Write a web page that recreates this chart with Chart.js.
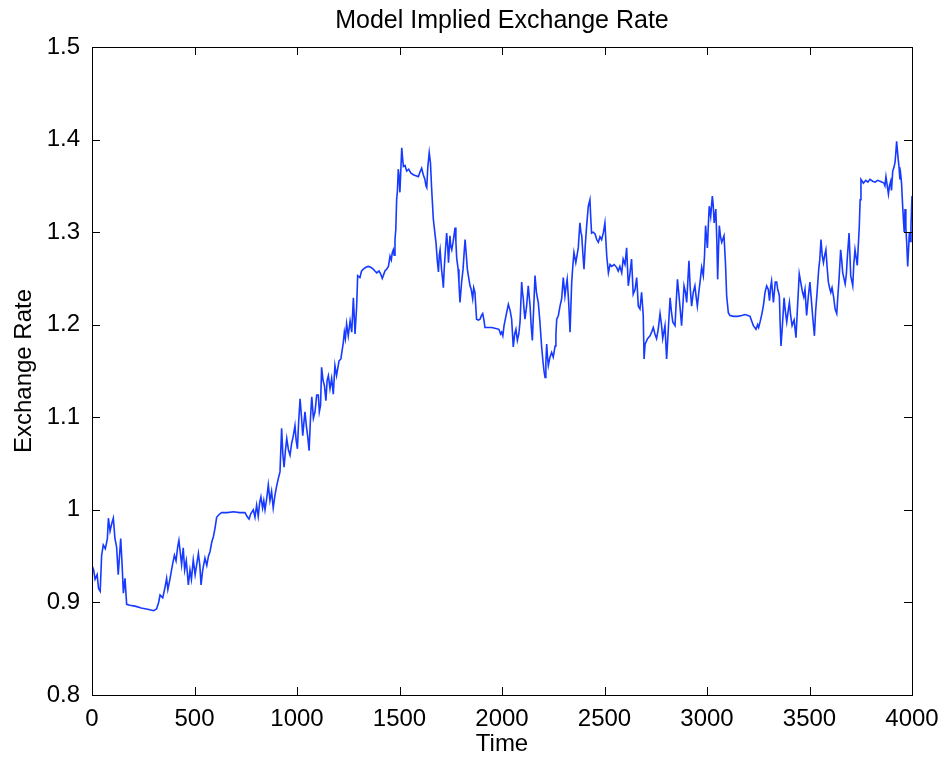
<!DOCTYPE html>
<html>
<head>
<meta charset="utf-8">
<title>Model Implied Exchange Rate</title>
<script src="https://cdn.jsdelivr.net/npm/chart.js@4.4.1/dist/chart.umd.min.js"></script>
<style>
  html, body { margin: 0; padding: 0; background: #fff; }
  #wrap { width: 944px; height: 762px; position: relative; }
</style>
</head>
<body>
<div id="wrap"><canvas id="rateChart"></canvas></div>
<script>
// values (time, exchange rate)
const times = [
  0, 8, 15, 25, 32, 40, 47, 55, 65, 75, 80, 88, 96, 104, 112, 120, 128, 140, 147, 153,
  161, 169, 185, 210, 240, 265, 283, 300, 315, 325, 332, 345, 355, 364, 370, 380, 392, 402, 410, 418,
  424, 430, 437, 445, 452, 460, 470, 478, 485, 494, 503, 510, 519, 526, 532, 540, 551, 560, 568, 576,
  584, 592, 600, 608, 620, 632, 660, 690, 720, 746, 756, 766, 775, 787, 795, 803, 811, 818, 824, 832,
  838, 844, 852, 860, 868, 876, 884, 892, 900, 909, 917, 925, 931, 937, 944, 950, 958, 966, 974, 982,
  990, 996, 1002, 1008, 1015, 1022, 1028, 1034, 1039, 1046, 1052, 1059, 1066, 1072, 1080, 1088, 1096, 1104, 1109, 1115,
  1120, 1127, 1134, 1141, 1147, 1153, 1161, 1169, 1177, 1185, 1193, 1205, 1214, 1220, 1226, 1231, 1236, 1242, 1250, 1259,
  1267, 1275, 1283, 1291, 1296, 1307, 1315, 1324, 1336, 1348, 1360, 1372, 1380, 1389, 1400, 1408, 1416, 1421, 1429, 1437,
  1446, 1454, 1460, 1465, 1470, 1474, 1478, 1482, 1486, 1490, 1494, 1498, 1502, 1507, 1511, 1515, 1519, 1527, 1535, 1545,
  1555, 1567, 1580, 1592, 1600, 1608, 1616, 1624, 1629, 1633, 1638, 1645, 1651, 1657, 1665, 1672, 1678, 1684, 1690, 1694,
  1698, 1705, 1710, 1714, 1718, 1722, 1730, 1735, 1739, 1746, 1750, 1755, 1762, 1771, 1775, 1779, 1786, 1790, 1795, 1803,
  1810, 1816, 1820, 1826, 1831, 1838, 1844, 1850, 1857, 1862, 1868, 1872, 1876, 1885, 1893, 1900, 1906, 1912, 1917, 1930,
  1950, 1970, 1985, 1993, 1998, 2004, 2010, 2020, 2031, 2040, 2047, 2055, 2062, 2068, 2075, 2082, 2088, 2096, 2100, 2104,
  2108, 2112, 2120, 2128, 2137, 2142, 2148, 2155, 2161, 2168, 2177, 2185, 2193, 2200, 2205, 2210, 2214, 2218, 2222, 2226,
  2234, 2242, 2250, 2259, 2263, 2267, 2275, 2283, 2291, 2299, 2307, 2312, 2318, 2325, 2332, 2340, 2346, 2351, 2360, 2366,
  2372, 2380, 2385, 2389, 2395, 2400, 2406, 2413, 2421, 2429, 2433, 2437, 2445, 2454, 2462, 2470, 2478, 2486, 2495, 2502,
  2511, 2519, 2527, 2535, 2547, 2559, 2567, 2575, 2584, 2591, 2600, 2608, 2616, 2624, 2632, 2640, 2649, 2657, 2665, 2673,
  2681, 2689, 2693, 2698, 2710, 2722, 2730, 2738, 2746, 2754, 2762, 2771, 2778, 2784, 2795, 2803, 2810, 2820, 2826, 2833,
  2844, 2850, 2856, 2862, 2868, 2876, 2882, 2888, 2895, 2901, 2906, 2912, 2918, 2925, 2933, 2941, 2947, 2953, 2960, 2966,
  2974, 2982, 2988, 2993, 3002, 3007, 3011, 3018, 3026, 3030, 3035, 3043, 3048, 3052, 3056, 3060, 3066, 3072, 3083, 3090,
  3096, 3104, 3112, 3130, 3150, 3170, 3185, 3200, 3210, 3218, 3226, 3233, 3239, 3247, 3252, 3259, 3268, 3276, 3283, 3291,
  3299, 3305, 3310, 3315, 3324, 3333, 3340, 3345, 3349, 3353, 3357, 3361, 3368, 3376, 3382, 3389, 3396, 3402, 3408, 3415,
  3425, 3434, 3441, 3450, 3458, 3466, 3472, 3478, 3486, 3494, 3502, 3508, 3515, 3524, 3530, 3537, 3545, 3550, 3556, 3562,
  3568, 3574, 3580, 3586, 3592, 3598, 3604, 3610, 3617, 3625, 3633, 3638, 3644, 3652, 3657, 3662, 3668, 3674, 3680, 3684,
  3693, 3701, 3711, 3716, 3722, 3733, 3738, 3743, 3747, 3751, 3757, 3763, 3775, 3785, 3795, 3808, 3820, 3832, 3844, 3855,
  3863, 3868, 3873, 3878, 3885, 3890, 3896, 3900, 3906, 3912, 3917, 3921, 3925, 3929, 3933, 3937, 3941, 3945, 3949, 3954,
  3958, 3962, 3966, 3970, 3974, 3979, 3983, 3987, 3991, 3995, 4000
];

const rates = [
  0.940, 0.935, 0.925, 0.930, 0.915, 0.912, 0.951, 0.962, 0.958, 0.969, 0.991, 0.977, 0.985, 0.991, 0.969, 0.960, 0.930, 0.969, 0.940, 0.910,
  0.926, 0.898, 0.897, 0.896, 0.894, 0.893, 0.892, 0.891, 0.893, 0.900, 0.908, 0.905, 0.915, 0.926, 0.914, 0.925, 0.940, 0.951, 0.945, 0.960,
  0.967, 0.955, 0.941, 0.959, 0.935, 0.945, 0.919, 0.935, 0.925, 0.946, 0.930, 0.940, 0.953, 0.940, 0.919, 0.935, 0.948, 0.940, 0.950, 0.955,
  0.965, 0.971, 0.980, 0.992, 0.995, 0.997, 0.997, 0.998, 0.997, 0.997, 0.993, 0.990, 0.996, 1.000, 0.992, 1.005, 0.993, 1.008, 1.014, 1.002,
  1.010, 1.000, 1.012, 1.027, 1.010, 1.020, 1.002, 1.015, 1.025, 1.034, 1.041, 1.088, 1.060, 1.046, 1.065, 1.077, 1.065, 1.059, 1.072, 1.080,
  1.091, 1.075, 1.066, 1.095, 1.120, 1.100, 1.080, 1.095, 1.106, 1.090, 1.080, 1.064, 1.100, 1.122, 1.099, 1.106, 1.124, 1.124, 1.106, 1.113,
  1.154, 1.140, 1.134, 1.118, 1.140, 1.145, 1.131, 1.142, 1.125, 1.156, 1.145, 1.161, 1.163, 1.172, 1.181, 1.192, 1.185, 1.201, 1.188, 1.204,
  1.192, 1.229, 1.190, 1.220, 1.253, 1.251, 1.258, 1.260, 1.262, 1.263, 1.262, 1.260, 1.258, 1.256, 1.258, 1.255, 1.250, 1.253, 1.258, 1.260,
  1.263, 1.274, 1.270, 1.278, 1.281, 1.275, 1.292, 1.303, 1.335, 1.345, 1.368, 1.360, 1.343, 1.370, 1.391, 1.380, 1.371, 1.372, 1.366, 1.368,
  1.364, 1.362, 1.361, 1.360, 1.365, 1.369, 1.362, 1.357, 1.350, 1.348, 1.370, 1.386, 1.375, 1.346, 1.314, 1.300, 1.289, 1.270, 1.257, 1.275,
  1.281, 1.260, 1.250, 1.240, 1.260, 1.274, 1.299, 1.285, 1.267, 1.296, 1.285, 1.281, 1.290, 1.305, 1.290, 1.272, 1.260, 1.245, 1.224, 1.246,
  1.260, 1.280, 1.292, 1.275, 1.260, 1.250, 1.242, 1.238, 1.228, 1.240, 1.235, 1.220, 1.206, 1.205, 1.206, 1.210, 1.212, 1.205, 1.197, 1.197,
  1.197, 1.196, 1.195, 1.190, 1.192, 1.188, 1.199, 1.210, 1.222, 1.215, 1.206, 1.176, 1.190, 1.195, 1.183, 1.190, 1.203, 1.246, 1.235, 1.228,
  1.215, 1.206, 1.220, 1.242, 1.220, 1.200, 1.183, 1.220, 1.253, 1.235, 1.224, 1.203, 1.177, 1.160, 1.150, 1.143, 1.160, 1.179, 1.165, 1.156,
  1.165, 1.170, 1.165, 1.177, 1.190, 1.206, 1.210, 1.220, 1.228, 1.251, 1.231, 1.240, 1.249, 1.225, 1.192, 1.246, 1.265, 1.278, 1.267, 1.275,
  1.283, 1.310, 1.300, 1.296, 1.275, 1.260, 1.285, 1.307, 1.328, 1.335, 1.315, 1.299, 1.300, 1.298, 1.292, 1.289, 1.295, 1.292, 1.300, 1.310,
  1.274, 1.256, 1.265, 1.263, 1.265, 1.262, 1.258, 1.263, 1.256, 1.271, 1.265, 1.283, 1.242, 1.255, 1.271, 1.233, 1.238, 1.251, 1.220, 1.217,
  1.235, 1.210, 1.163, 1.179, 1.185, 1.188, 1.192, 1.197, 1.190, 1.185, 1.195, 1.212, 1.200, 1.185, 1.199, 1.163, 1.190, 1.229, 1.215, 1.203,
  1.199, 1.225, 1.249, 1.235, 1.220, 1.199, 1.220, 1.242, 1.235, 1.224, 1.245, 1.269, 1.240, 1.220, 1.235, 1.242, 1.230, 1.220, 1.235, 1.246,
  1.262, 1.253, 1.275, 1.307, 1.283, 1.310, 1.328, 1.317, 1.339, 1.330, 1.310, 1.325, 1.290, 1.249, 1.280, 1.307, 1.295, 1.289, 1.296, 1.267,
  1.231, 1.213, 1.210, 1.209, 1.209, 1.210, 1.211, 1.210, 1.209, 1.204, 1.199, 1.197, 1.195, 1.200, 1.197, 1.203, 1.212, 1.222, 1.235, 1.242,
  1.238, 1.226, 1.240, 1.247, 1.224, 1.246, 1.246, 1.238, 1.235, 1.231, 1.200, 1.177, 1.200, 1.229, 1.215, 1.203, 1.215, 1.224, 1.210, 1.199,
  1.205, 1.186, 1.217, 1.255, 1.245, 1.235, 1.230, 1.238, 1.210, 1.230, 1.246, 1.230, 1.210, 1.188, 1.215, 1.235, 1.260, 1.270, 1.292, 1.275,
  1.267, 1.275, 1.281, 1.262, 1.246, 1.240, 1.235, 1.240, 1.231, 1.217, 1.212, 1.230, 1.249, 1.281, 1.270, 1.256, 1.250, 1.244, 1.255, 1.271,
  1.299, 1.253, 1.242, 1.265, 1.281, 1.264, 1.285, 1.307, 1.335, 1.357, 1.355, 1.353, 1.356, 1.354, 1.357, 1.355, 1.354, 1.356, 1.355, 1.354,
  1.353, 1.350, 1.360, 1.352, 1.341, 1.350, 1.355, 1.345, 1.366, 1.370, 1.375, 1.385, 1.398, 1.388, 1.378, 1.370, 1.357, 1.362, 1.353, 1.330,
  1.314, 1.300, 1.325, 1.305, 1.289, 1.263, 1.280, 1.299, 1.290, 1.307, 1.339
];

// axis ticks
const xTicks = [0, 500, 1000, 1500, 2000, 2500, 3000, 3500, 4000];
const yTicks = [0.8, 0.9, 1.0, 1.1, 1.2, 1.3, 1.4, 1.5];
const chartTitle = 'Model Implied Exchange Rate';

const fontFamily = '"Liberation Sans", Arial, Helvetica, sans-serif';
Chart.defaults.color = '#000';
Chart.defaults.font.family = fontFamily;

// box around the plot with ticks pointing inwards on all four sides, title over the plot area
const boxTicks = {
  id: 'boxTicks',
  afterDraw(chart) {
    const { ctx, chartArea: a, scales } = chart;
    const len = 8;
    ctx.save();
    ctx.strokeStyle = '#000';
    ctx.lineWidth = 1;
    ctx.strokeRect(a.left + 0.5, a.top + 0.5, a.right - a.left, a.bottom - a.top);
    ctx.beginPath();
    xTicks.forEach(v => {
      const x = Math.round(scales.x.getPixelForValue(v)) + 0.5;
      ctx.moveTo(x, a.bottom); ctx.lineTo(x, a.bottom - len);
      ctx.moveTo(x, a.top); ctx.lineTo(x, a.top + len);
    });
    yTicks.forEach(v => {
      const y = Math.round(scales.y.getPixelForValue(v)) + 0.5;
      ctx.moveTo(a.left, y); ctx.lineTo(a.left + len, y);
      ctx.moveTo(a.right, y); ctx.lineTo(a.right - len, y);
    });
    ctx.stroke();

    ctx.fillStyle = '#000';
    ctx.font = '25px ' + fontFamily;
    ctx.textAlign = 'center';
    ctx.textBaseline = 'middle';
    ctx.fillText(chartTitle, (a.left + a.right) / 2, 21);
    ctx.restore();
  }
};

const ctx = document.getElementById('rateChart').getContext('2d');
new Chart(ctx, {
  type: 'line',
  data: {
    datasets: [{
      data: times.map((t, i) => ({ x: t, y: rates[i] })),
      borderColor: 'rgb(22, 58, 255)',
      borderWidth: 1.6,
      pointRadius: 0,
      tension: 0,
      fill: false
    }]
  },
  options: {
    responsive: true,
    maintainAspectRatio: false,
    animation: false,
    layout: { padding: { left: 0, right: 32, top: 47, bottom: 0 } },
    plugins: {
      legend: { display: false },
      tooltip: { enabled: false },
      title: { display: false }
    },
    scales: {
      x: {
        type: 'linear',
        min: 0,
        max: 4000,
        afterBuildTicks: s => { s.ticks = xTicks.map(v => ({ value: v })); },
        afterFit: s => { s.height = 67; s.paddingLeft = 0; s.paddingRight = 0; },
        grid: { display: false, drawTicks: false },
        border: { display: false },
        ticks: { font: { size: 24 }, padding: 10, maxRotation: 0, callback: v => String(v) },
        title: { display: true, text: 'Time', font: { size: 24 }, padding: { top: 0, bottom: 3 } }
      },
      y: {
        type: 'linear',
        min: 0.8,
        max: 1.5,
        afterBuildTicks: s => { s.ticks = yTicks.map(v => ({ value: v })); },
        afterFit: s => { s.width = 92; },
        grid: { display: false, drawTicks: false },
        border: { display: false },
        ticks: {
          font: { size: 24 },
          padding: 12,
          callback: v => String(Number(v.toFixed(1)))
        },
        title: { display: true, text: 'Exchange Rate', font: { size: 24 }, padding: { top: 10, bottom: 0 } }
      }
    }
  },
  plugins: [boxTicks]
});
</script>
</body>
</html>
